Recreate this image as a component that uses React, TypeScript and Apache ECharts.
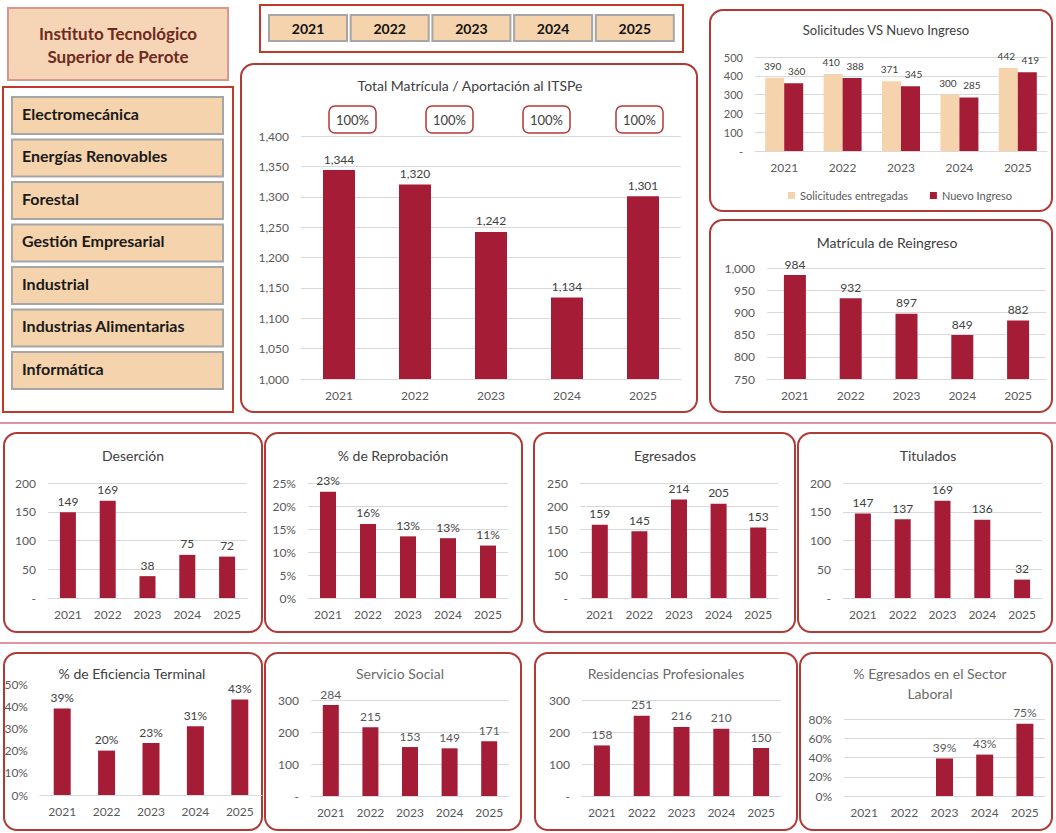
import React, { useEffect, useRef } from "react";
import * as echarts from "echarts";

const years = ["2021", "2022", "2023", "2024", "2025"];
const carreras = [
  "Electromecánica",
  "Energías Renovables",
  "Forestal",
  "Gestión Empresarial",
  "Industrial",
  "Industrias Alimentarias",
  "Informática",
];
const aportacion = ["100%", "100%", "100%", "100%"];
const totalMatricula = [1344, 1320, 1242, 1134, 1301];
const solicitudes = [390, 410, 371, 300, 442];
const nuevoIngreso = [360, 388, 345, 285, 419];
const reingreso = [984, 932, 897, 849, 882];
const desercion = [149, 169, 38, 75, 72];
const reprobacion = [0.231, 0.161, 0.134, 0.13, 0.114];
const egresados = [159, 145, 214, 205, 153];
const titulados = [147, 137, 169, 136, 32];
const eficiencia = [0.39, 0.2, 0.234, 0.31, 0.43];
const servicioSocial = [284, 215, 153, 149, 171];
const residencias = [158, 251, 216, 210, 150];
const sectorLaboral = [null, null, 0.39, 0.43, 0.75];

const BAR = "#A51C36";
const TAN = "#F5D3AC";
const FONT = "Lato, 'Noto Sans', sans-serif";
const BOX = "#B03A35";

const fmtNum = (v: number) => (v === 0 ? "-" : Number(v).toLocaleString("en-US"));
const fmtPct = (v: number) => Math.round(v * 100) + "%";

type Block = {
  name: string;
  data: (number | null)[];
  grid: { left: number; top: number; width: number; height: number };
  min: number;
  max: number;
  interval: number;
  pct?: boolean;
  barWidth: number;
  split?: boolean;
  labelColor?: string;
};

const blocks: Block[] = [
  { name: "Total Matrícula", data: totalMatricula, grid: { left: 301, top: 136, width: 380, height: 243 }, min: 1000, max: 1400, interval: 50, barWidth: 32 },
  { name: "Matrícula de Reingreso", data: reingreso, grid: { left: 767, top: 268, width: 279, height: 111 }, min: 750, max: 1000, interval: 50, barWidth: 22 },
  { name: "Deserción", data: desercion, grid: { left: 48, top: 483, width: 199, height: 115 }, min: 0, max: 200, interval: 50, barWidth: 16 },
  { name: "% de Reprobación", data: reprobacion, grid: { left: 308, top: 483, width: 200, height: 115 }, min: 0, max: 0.25, interval: 0.05, pct: true, barWidth: 16 },
  { name: "Egresados", data: egresados, grid: { left: 580, top: 483, width: 198, height: 115 }, min: 0, max: 250, interval: 50, barWidth: 16 },
  { name: "Titulados", data: titulados, grid: { left: 843, top: 483, width: 199, height: 115 }, min: 0, max: 200, interval: 50, barWidth: 16 },
  { name: "% de Eficiencia Terminal", data: eficiencia, grid: { left: 40, top: 684, width: 222, height: 111 }, min: 0, max: 0.5, interval: 0.1, pct: true, barWidth: 17, split: false },
  { name: "Servicio Social", data: servicioSocial, grid: { left: 311, top: 700, width: 198, height: 96 }, min: 0, max: 300, interval: 100, barWidth: 16, labelColor: "#595959" },
  { name: "Residencias Profesionales", data: residencias, grid: { left: 582, top: 700, width: 199, height: 96 }, min: 0, max: 300, interval: 100, barWidth: 16, labelColor: "#595959" },
  { name: "% Egresados en el Sector Laboral", data: sectorLaboral, grid: { left: 844, top: 719, width: 201, height: 77 }, min: 0, max: 0.8, interval: 0.2, pct: true, barWidth: 17, labelColor: "#595959" },
];

function txt(text: string, x: number, y: number, font: string, fill: string, align = "center") {
  return {
    type: "text",
    x,
    y,
    silent: true,
    style: { text, font, fill, textAlign: align, textVerticalAlign: "middle", align, verticalAlign: "middle" },
  };
}

function rect(x: number, y: number, w: number, h: number, style: any, r = 0) {
  return { type: "rect", silent: true, shape: { x, y, width: w, height: h, r }, style };
}

function buildOption() {
  const grids: any[] = [];
  const xAxes: any[] = [];
  const yAxes: any[] = [];
  const series: any[] = [];

  const addAxes = (grid: any, min: number, max: number, interval: number, pct: boolean, split: boolean) => {
    const gi = grids.length;
    grids.push({ ...grid, containLabel: false });
    xAxes.push({
      type: "category",
      gridIndex: gi,
      data: years,
      axisTick: { show: false },
      axisLine: { lineStyle: { color: "#D9D9D9", width: 1 } },
      axisLabel: { color: "#595959", fontSize: 12, fontFamily: FONT, margin: 10 },
    });
    yAxes.push({
      type: "value",
      gridIndex: gi,
      min,
      max,
      interval,
      axisLine: { show: false },
      axisTick: { show: false },
      splitLine: { show: split, lineStyle: { color: "#D9D9D9", width: 1 } },
      axisLabel: {
        color: "#595959",
        fontSize: 12,
        fontFamily: FONT,
        margin: 12,
        formatter: (v: number) => (pct ? fmtPct(v) : fmtNum(v)),
      },
    });
    return gi;
  };

  blocks.forEach((b) => {
    const gi = addAxes(b.grid, b.min, b.max, b.interval, !!b.pct, b.split !== false);
    series.push({
      type: "bar",
      name: b.name,
      xAxisIndex: gi,
      yAxisIndex: gi,
      data: b.data,
      barWidth: b.barWidth,
      itemStyle: { color: BAR },
      label: {
        show: true,
        position: "top",
        distance: 5,
        color: b.labelColor || "#404040",
        fontSize: 12,
        fontFamily: FONT,
        formatter: (p: any) => (p.value == null ? "" : b.pct ? fmtPct(p.value) : fmtNum(p.value)),
      },
    });
  });

  // Solicitudes VS Nuevo Ingreso
  const gs = addAxes({ left: 755, top: 57, width: 292, height: 94 }, 0, 500, 100, false, true);
  yAxes[gs].axisLabel.fontSize = 11;
  const lab = (dx: number) => ({
    show: true,
    position: "top",
    distance: 7,
    offset: [dx, 0],
    color: "#404040",
    fontSize: 10,
    fontFamily: FONT,
    formatter: (p: any) => fmtNum(p.value),
  });
  series.push({
    type: "bar",
    name: "Solicitudes entregadas",
    xAxisIndex: gs,
    yAxisIndex: gs,
    data: solicitudes,
    barWidth: 19,
    barGap: "0%",
    itemStyle: { color: TAN },
    label: lab(-2),
  });
  series.push({
    type: "bar",
    name: "Nuevo Ingreso",
    xAxisIndex: gs,
    yAxisIndex: gs,
    data: nuevoIngreso,
    barWidth: 19,
    barGap: "0%",
    itemStyle: { color: BAR },
    label: lab(3),
  });

  const g: any[] = [];
  // Title box
  g.push(rect(8, 8, 220, 72, { fill: "#F5D5B6", stroke: "#D99590", lineWidth: 2 }));
  g.push(txt("Instituto Tecnológico", 118, 33, `bold 17px ${FONT}`, "#6E2A1E"));
  g.push(txt("Superior de Perote", 118, 56, `bold 17px ${FONT}`, "#6E2A1E"));
  // Career panel
  g.push(rect(3, 87, 230, 325, { fill: "none", stroke: "#C0392B", lineWidth: 2 }));
  carreras.forEach((c, i) => {
    const y = 97 + i * 42.5;
    g.push(rect(12, y, 211, 37, { fill: TAN, stroke: "#A6A6A6", lineWidth: 2 }));
    g.push(txt(c, 22, y + 16, `bold 16px ${FONT}`, "#1A1A1A", "left"));
  });
  // Year slicer
  g.push(rect(260, 5, 423, 47, { fill: "none", stroke: "#C0392B", lineWidth: 2 }));
  years.forEach((yv, i) => {
    const x = 269 + i * 81.7;
    g.push(rect(x, 15, 78, 26, { fill: TAN, stroke: "#A6A6A6", lineWidth: 2 }));
    g.push(txt(yv, x + 39, 28, `bold 14px ${FONT}`, "#111111"));
  });
  // Chart boxes
  const boxes = [
    [241, 64, 456, 348],
    [710, 10, 342, 201],
    [710, 220, 342, 192],
    [4, 433, 258, 199],
    [265, 433, 257, 199],
    [534, 433, 261, 199],
    [798, 433, 254, 199],
    [4, 653, 258, 177],
    [265, 653, 256, 177],
    [535, 653, 262, 177],
    [800, 653, 252, 177],
  ];
  boxes.forEach(([x, y, w, h]) => g.push(rect(x, y, w, h, { fill: "none", stroke: BOX, lineWidth: 2 }, 13)));
  // Divider lines
  [423, 643].forEach((y) =>
    g.push({ type: "line", silent: true, shape: { x1: 0, y1: y, x2: 1056, y2: y }, style: { stroke: "#D4727E", lineWidth: 1.5 } })
  );
  // 100% boxes
  const apX = [329, 426, 523, 616];
  aportacion.forEach((a, i) => {
    g.push(rect(apX[i], 106, 47, 27, { fill: "#FFFFFF", stroke: BOX, lineWidth: 1.5 }, 6));
    g.push(txt(a, apX[i] + 23.5, 119.5, `13px ${FONT}`, "#404040"));
  });
  // Titles
  const dark = "#404040";
  const gray = "#6B6B6B";
  g.push(txt("Total Matrícula / Aportación al ITSPe", 470, 85, `14px ${FONT}`, dark));
  g.push(txt("Solicitudes VS Nuevo Ingreso", 886, 30, `13px ${FONT}`, dark));
  g.push(txt("Matrícula de Reingreso", 887, 242, `14px ${FONT}`, dark));
  g.push(txt("Deserción", 133, 455, `14px ${FONT}`, dark));
  g.push(txt("% de Reprobación", 393, 455, `14px ${FONT}`, dark));
  g.push(txt("Egresados", 665, 455, `14px ${FONT}`, dark));
  g.push(txt("Titulados", 928, 455, `14px ${FONT}`, dark));
  g.push(txt("% de Eficiencia Terminal", 132, 673, `14px ${FONT}`, dark));
  g.push(txt("Servicio Social", 400, 673, `14px ${FONT}`, gray));
  g.push(txt("Residencias Profesionales", 666, 673, `14px ${FONT}`, gray));
  g.push(txt("% Egresados en el Sector", 930, 673, `14px ${FONT}`, gray));
  g.push(txt("Laboral", 930, 693, `14px ${FONT}`, gray));

  return {
    animation: false,
    backgroundColor: "#FFFFFF",
    textStyle: { fontFamily: FONT },
    grid: grids,
    xAxis: xAxes,
    yAxis: yAxes,
    series,
    legend: {
      data: ["Solicitudes entregadas", "Nuevo Ingreso"],
      left: 783,
      top: 185,
      icon: "rect",
      itemWidth: 7,
      itemHeight: 7,
      itemGap: 22,
      textStyle: { color: "#595959", fontSize: 11, fontFamily: FONT },
    },
    graphic: { elements: g },
  };
}

export default function App() {
  const ref = useRef<HTMLDivElement>(null);
  useEffect(() => {
    if (!ref.current) return;
    const chart = echarts.init(ref.current, null, { renderer: "svg" });
    chart.setOption(buildOption() as any);
    return () => chart.dispose();
  }, []);
  return (
    <div
      ref={ref}
      style={{ position: "absolute", left: 0, top: 0, width: 1056, height: 833, background: "#FFFFFF" }}
    />
  );
}
